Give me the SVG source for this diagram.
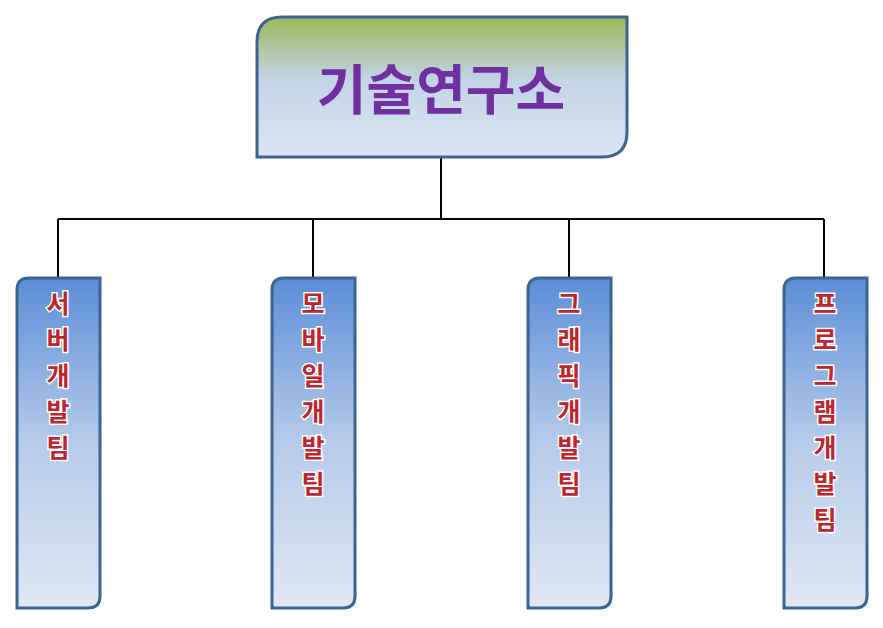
<svg xmlns="http://www.w3.org/2000/svg" width="883" height="628" viewBox="0 0 883 628">
<defs>
<linearGradient id="gTop" x1="0" y1="0" x2="0" y2="1"><stop offset="0" stop-color="#9bbb59"/><stop offset="0.45" stop-color="#c3d3e8"/><stop offset="1" stop-color="#dce6f4"/></linearGradient>
<linearGradient id="gChild" x1="0" y1="0" x2="0" y2="1"><stop offset="0" stop-color="#5b8ed6"/><stop offset="0.5" stop-color="#b6cbea"/><stop offset="1" stop-color="#dfe8f6"/></linearGradient>
<style>
.box{stroke:#3d6393;stroke-width:3}
.ch{fill:url(#gChild)}
.t{font-family:"Noto Sans CJK KR",sans-serif;font-weight:bold;text-anchor:middle}
.ct{font-size:25px;fill:#c0242c;stroke:#ffffff;stroke-width:3;paint-order:stroke}
.ln{stroke:#000;stroke-width:2;fill:none}
</style>
</defs>
<g id="connectors">
<path class="ln" d="M441 157V219M58 219H824M58 219V278M313 219V278M569 219V278M824 219V278"/>
</g>
<g id="top">
<path class="box" fill="url(#gTop)" d="M282 17H627V132Q627 157 602 157H257V42Q257 17 282 17Z"/>
<text class="t" x="441" y="110" font-size="54" fill="#7030a0">기술연구소</text>
</g>
<g id="n1">
<path class="box ch" d="M29 278H100V596Q100 608 88 608H17V290Q17 278 29 278Z"/>
<text class="t ct"><tspan x="58" y="313">서</tspan><tspan x="58" y="349">버</tspan><tspan x="58" y="385">개</tspan><tspan x="58" y="421">발</tspan><tspan x="58" y="457">팀</tspan></text>
</g>
<g id="n2">
<path class="box ch" d="M284 278H355V596Q355 608 343 608H272V290Q272 278 284 278Z"/>
<text class="t ct"><tspan x="313" y="313">모</tspan><tspan x="313" y="349">바</tspan><tspan x="313" y="385">일</tspan><tspan x="313" y="421">개</tspan><tspan x="313" y="457">발</tspan><tspan x="313" y="493">팀</tspan></text>
</g>
<g id="n3">
<path class="box ch" d="M540 278H611V596Q611 608 599 608H528V290Q528 278 540 278Z"/>
<text class="t ct"><tspan x="569" y="313">그</tspan><tspan x="569" y="349">래</tspan><tspan x="569" y="385">픽</tspan><tspan x="569" y="421">개</tspan><tspan x="569" y="457">발</tspan><tspan x="569" y="493">팀</tspan></text>
</g>
<g id="n4">
<path class="box ch" d="M796 278H867V596Q867 608 855 608H784V290Q784 278 796 278Z"/>
<text class="t ct"><tspan x="825" y="313">프</tspan><tspan x="825" y="349">로</tspan><tspan x="825" y="385">그</tspan><tspan x="825" y="421">램</tspan><tspan x="825" y="457">개</tspan><tspan x="825" y="493">발</tspan><tspan x="825" y="529">팀</tspan></text>
</g>
</svg>
